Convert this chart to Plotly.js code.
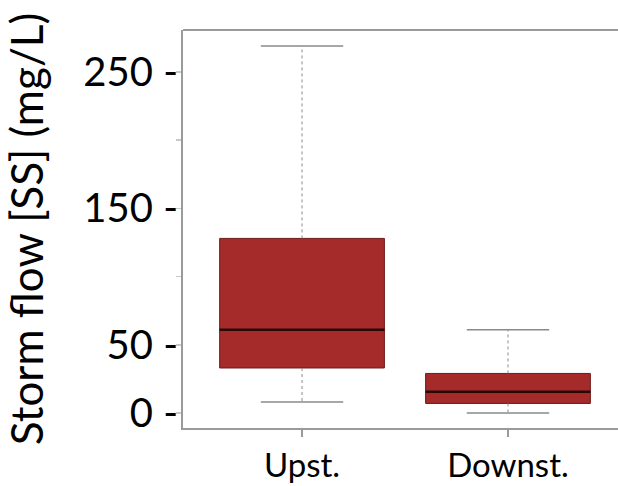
<!DOCTYPE html>
<html>
<head>
<meta charset="utf-8">
<script src="https://cdn.plot.ly/plotly-3.0.1.min.js"></script>
<style>
  html, body { margin: 0; padding: 0; background: #fff; overflow: hidden; }
  #chart { width: 640px; height: 486px; }
</style>
</head>
<body>
<div id="chart"></div>
<script>
// Suspended solids in storm flow, upstream vs downstream
const categories = ['Upst.', 'Downst.'];
const lowerWhisker = [8, 0];
const q1 = [33, 7];
const median = [61, 15.5];
const q3 = [128, 29];
const upperWhisker = [269, 61];

const yTickVals = [0, 50, 100, 150, 200, 250];
const yTickText = ['0 -', '50 -', '', '150 -', '', '250 -'];

const FONT = 'Lato, "Open Sans", sans-serif';
const GRAY = '#9a9a9a';
const BOX_WIDTH = 0.8;
const CAP_HALF = 0.2;

const xs = categories.map((_, i) => i);
const traces = [];

// dotted whisker stems and solid caps
xs.forEach((x, i) => {
  traces.push({
    type: 'scatter', mode: 'lines', hoverinfo: 'skip', showlegend: false,
    x: [x, x, null, x, x],
    y: [q3[i], upperWhisker[i], null, q1[i], lowerWhisker[i]],
    line: { color: '#8a8a8a', width: 1, dash: 'dot' }
  });
  traces.push({
    type: 'scatter', mode: 'lines', hoverinfo: 'skip', showlegend: false,
    x: [x - CAP_HALF, x + CAP_HALF, null, x - CAP_HALF, x + CAP_HALF],
    y: [upperWhisker[i], upperWhisker[i], null, lowerWhisker[i], lowerWhisker[i]],
    line: { color: '#8a8a8a', width: 1.5 }
  });
});

// boxes (interquartile range)
traces.push({
  type: 'box',
  x: xs,
  q1: q1,
  median: median,
  q3: q3,
  lowerfence: q1,
  upperfence: q3,
  width: BOX_WIDTH,
  whiskerwidth: 0,
  fillcolor: '#a52a2a',
  line: { color: '#6e1c1c', width: 1 },
  showlegend: false,
  hoverinfo: 'skip'
});

// heavy median bars
xs.forEach((x, i) => {
  traces.push({
    type: 'scatter', mode: 'lines', hoverinfo: 'skip', showlegend: false,
    x: [x - BOX_WIDTH / 2, x + BOX_WIDTH / 2],
    y: [median[i], median[i]],
    line: { color: '#2a0606', width: 2.5 }
  });
});

const layout = {
  width: 640,
  height: 486,
  margin: { l: 183, r: 0, t: 30, b: 58 },
  paper_bgcolor: '#fff',
  plot_bgcolor: '#fff',
  showlegend: false,
  font: { family: FONT, color: '#000' },
  // frame line along the top of the plotting area
  shapes: [{
    type: 'line', xref: 'paper', yref: 'paper',
    x0: 0, x1: 1, y0: 1, y1: 1,
    line: { color: GRAY, width: 2 }
  }],
  xaxis: {
    range: [-0.578, 1.641],
    tickvals: xs,
    ticktext: categories,
    tickfont: { family: FONT, size: 33, color: '#000' },
    ticks: 'outside',
    ticklen: 7,
    tickcolor: GRAY,
    tickwidth: 1.5,
    showline: true,
    linecolor: GRAY,
    linewidth: 2,
    showgrid: false,
    zeroline: false
  },
  yaxis: {
    range: [-11, 280.8],
    tickvals: yTickVals,
    ticktext: yTickText,
    tickfont: { family: FONT, size: 40, color: '#000' },
    ticklabelstandoff: -10,
    ticks: 'outside',
    ticklen: 5,
    tickcolor: '#c8c8c8',
    tickwidth: 1.5,
    showline: true,
    linecolor: GRAY,
    linewidth: 2,
    showgrid: false,
    zeroline: false,
    title: {
      text: 'Storm flow [SS] (mg/L)',
      standoff: 28,
      font: { family: FONT, size: 44, color: '#000' }
    }
  }
};

Plotly.newPlot('chart', traces, layout, { staticPlot: true, displayModeBar: false });
</script>
</body>
</html>
